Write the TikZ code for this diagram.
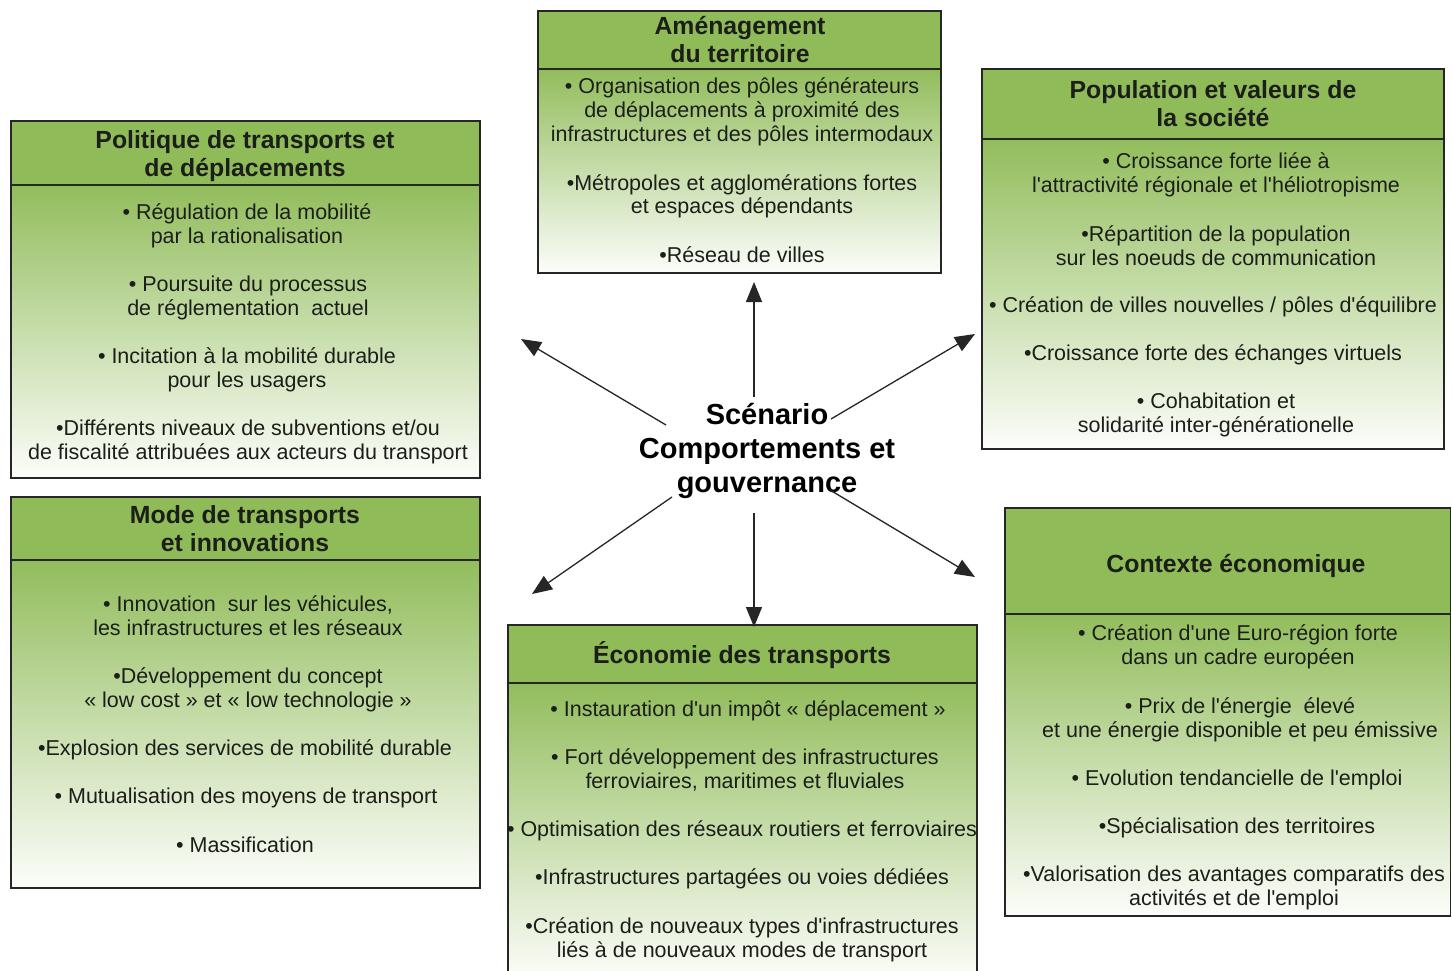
\documentclass[tikz,border=0pt]{standalone}
\usepackage{fontspec}
\setmainfont{Liberation Sans}[Ligatures=TeXOff]
\usetikzlibrary{arrows.meta}

\definecolor{headgreen}{RGB}{143,187,88}
\definecolor{bodygreen}{RGB}{146,189,92}
\definecolor{bodyend}{RGB}{252,253,250}
\definecolor{ink}{RGB}{28,30,26}

\tikzset{
  boxline/.style={draw=black!85, line width=1.3pt},
  titletext/.style={anchor=base, align=center, inner sep=0pt, text=ink,
    font=\fontsize{24.8}{28}\selectfont\bfseries},
  itemtext/.style={anchor=base, align=center, inner sep=0pt, text=ink,
    font=\fontsize{21.5}{24}\selectfont},
  centertext/.style={anchor=base, align=center, inner sep=0pt, text=black,
    font=\fontsize{29}{34}\selectfont\bfseries},
  link/.style={draw=black!85, line width=1.3pt, -{Triangle[length=20pt,width=16pt]}}
}

% theme box: solid header band above a green-to-white body
\newcommand\themebox[5]{%
  \fill[headgreen] (#1,#2) rectangle (#3,#5);
  \shade[top color=bodygreen, bottom color=bodyend] (#1,#5) rectangle (#3,#4);
  \draw[boxline] (#1,#2) rectangle (#3,#4);
  \draw[boxline] (#1,#5) -- (#3,#5);
}

\begin{document}
\begin{tikzpicture}[x=1pt,y=-1pt]
\useasboundingbox (0,0) rectangle (1452,971);
\clip (0,0) rectangle (1452,971);
\fill[white] (0,0) rectangle (1452,971);

% boxes: left, top, right, bottom, header bottom
\themebox{538}{11}{941}{273}{69}
\themebox{982}{69}{1444}{449}{139}
\themebox{11}{121}{480}{478}{185}
\themebox{11}{497}{480}{888}{560}
\themebox{508}{625}{977}{980}{683}
\themebox{1005}{508}{1450.5}{916}{614}

% texts are placed by the baseline of their last line

% Aménagement du territoire
\node[titletext] (amt) at (740,62.5) {Aménagement\\du territoire};
\node[itemtext] (am1) at (742,142) {• Organisation des pôles générateurs\\de déplacements à proximité des\\infrastructures et des pôles intermodaux};
\node[itemtext] (am2) at (742,214) {•Métropoles et agglomérations fortes\\et espaces dépendants};
\node[itemtext] (am3) at (742,262) {•Réseau de villes};

% Population et valeurs de la société
\node[titletext] (pot) at (1213,126.5) {Population et valeurs de\\la société};
\node[itemtext] (po1) at (1216,193) {• Croissance forte liée à\\l'attractivité régionale et l'héliotropisme};
\node[itemtext] (po2) at (1216,265) {•Répartition de la population\\sur les noeuds de communication};
\node[itemtext] (po3) at (1213,312) {• Création de villes nouvelles / pôles d'équilibre};
\node[itemtext] (po4) at (1213,360) {•Croissance forte des échanges virtuels};
\node[itemtext] (po5) at (1216,432) {• Cohabitation et\\solidarité inter-générationelle};

% Politique de transports et de déplacements
\node[titletext] (plt) at (245,176.5) {Politique de transports et\\de déplacements};
\node[itemtext] (pl1) at (247,243) {• Régulation de la mobilité\\par la rationalisation};
\node[itemtext] (pl2) at (248,315) {• Poursuite du processus\\de réglementation~ actuel};
\node[itemtext] (pl3) at (247,387) {• Incitation à la mobilité durable\\pour les usagers};
\node[itemtext] (pl4) at (248,459) {•Différents niveaux de subventions et/ou\\de fiscalité attribuées aux acteurs du transport};

% Mode de transports et innovations
\node[titletext] (mot) at (245,551.5) {Mode de transports\\et innovations};
\node[itemtext] (mo1) at (248,635) {• Innovation~ sur les véhicules,\\les infrastructures et les réseaux};
\node[itemtext] (mo2) at (248,707) {•Développement du concept\\« low cost » et « low technologie »};
\node[itemtext] (mo3) at (245,755) {•Explosion des services de mobilité durable};
\node[itemtext] (mo4) at (246,803) {• Mutualisation des moyens de transport};
\node[itemtext] (mo5) at (245,852) {• Massification};

% Économie des transports
\node[titletext] (ect) at (742,663.5) {Économie des transports};
\node[itemtext] (ec1) at (748,716) {• Instauration d'un impôt « déplacement »};
\node[itemtext] (ec2) at (745,788) {• Fort développement des infrastructures\\ferroviaires, maritimes et fluviales};
\node[itemtext] (ec3) at (742,836) {• Optimisation des réseaux routiers et ferroviaires};
\node[itemtext] (ec4) at (742,884) {•Infrastructures partagées ou voies dédiées};
\node[itemtext] (ec5) at (742,957) {•Création de nouveaux types d'infrastructures\\liés à de nouveaux modes de transport};

% Contexte économique
\node[titletext] (cet) at (1236,572.5) {Contexte économique};
\node[itemtext] (ce1) at (1238,664) {• Création d'une Euro-région forte\\dans un cadre européen};
\node[itemtext] (ce2) at (1240,737) {• Prix de l'énergie~ élevé\\et une énergie disponible et peu émissive};
\node[itemtext] (ce3) at (1237,785) {• Evolution tendancielle de l'emploi};
\node[itemtext] (ce4) at (1237,833) {•Spécialisation des territoires};
\node[itemtext] (ce5) at (1234,905) {•Valorisation des avantages comparatifs des\\activités et de l'emploi};

% central scenario
\node[centertext] (scen) at (767,492) {Scénario\\Comportements et\\gouvernance};

% arrow ends around the scenario
\coordinate (u1) at (754,397);  \coordinate (u2) at (754,282);
\coordinate (ul1) at (666,425); \coordinate (ul2) at (521,339);
\coordinate (ur1) at (831,419); \coordinate (ur2) at (975,334);
\coordinate (dl1) at (672,497); \coordinate (dl2) at (532,594);
\coordinate (d1) at (754,513);  \coordinate (d2) at (754,627);
\coordinate (dr1) at (830,490); \coordinate (dr2) at (975,577);

\draw[link] (u1) -- (u2);
\draw[link] (ul1) -- (ul2);
\draw[link] (ur1) -- (ur2);
\draw[link] (dl1) -- (dl2);
\draw[link] (d1) -- (d2);
\draw[link] (dr1) -- (dr2);
\end{tikzpicture}
\end{document}
